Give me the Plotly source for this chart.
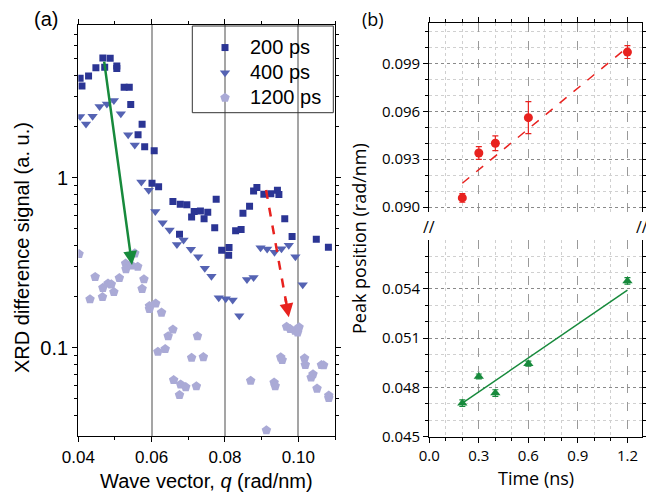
import numpy as np
import plotly.graph_objects as go

# ---- panel (a): XRD difference signal vs wave vector ----
q_200 = [0.0405, 0.0410, 0.0428, 0.0448, 0.0467, 0.0472, 0.0487, 0.0505, 0.0505, 0.0525,
         0.0539, 0.0543, 0.0563, 0.0574, 0.0581, 0.0607, 0.0601, 0.0619, 0.0658, 0.0676,
         0.0678, 0.0696, 0.0709, 0.0716, 0.0733, 0.0743, 0.0753, 0.0772, 0.0776, 0.0791,
         0.0810, 0.0811, 0.0829, 0.0844, 0.0849, 0.0867, 0.0878, 0.0887, 0.0906, 0.0925,
         0.0943, 0.0947, 0.0963, 0.0983, 0.1049, 0.1082]
sig_200 = [3.84, 3.46, 3.96, 4.44, 5.06, 4.46, 5.04, 4.54, 4.39, 3.40,
           3.40, 2.70, 1.79, 2.06, 1.52, 1.44, 0.927, 0.885, 0.724, 0.465,
           0.698, 0.694, 0.587, 0.634, 0.637, 0.574, 0.626, 0.508, 0.746, 0.374,
           0.350, 0.389, 0.487, 0.496, 0.618, 0.679, 0.835, 0.876, 0.800, 0.805,
           0.843, 0.798, 0.573, 0.451, 0.435, 0.390]

q_400 = [0.0405, 0.0421, 0.0439, 0.0458, 0.0478, 0.0497, 0.0516, 0.0536, 0.0554, 0.0572,
         0.0592, 0.0610, 0.0630, 0.0649, 0.0669, 0.0687, 0.0707, 0.0727, 0.0745, 0.0763,
         0.0783, 0.0802, 0.0821, 0.0839, 0.0860, 0.0878, 0.0897, 0.0915, 0.0935, 0.0954,
         0.0974, 0.0992, 0.1012]
sig_400 = [2.29, 2.07, 2.30, 2.62, 2.71, 2.85, 2.38, 1.79, 1.56, 0.943,
           0.843, 0.633, 0.544, 0.492, 0.405, 0.430, 0.379, 0.343, 0.293, 0.263,
           0.197, 0.194, 0.191, 0.154, 0.252, 0.259, 0.388, 0.381, 0.365, 0.382,
           0.401, 0.343, 0.235]

q_1200 = [0.0402, 0.0432, 0.0446, 0.0466, 0.0467, 0.0481, 0.0490, 0.0497, 0.0512, 0.0529,
          0.0530, 0.0545, 0.0554, 0.0562, 0.0574, 0.0579, 0.0594, 0.0594, 0.0611, 0.0627,
          0.0617, 0.0637, 0.0645, 0.0658, 0.0660, 0.0679, 0.0693, 0.0676, 0.0709, 0.0722,
          0.0725, 0.0741, 0.0870, 0.0913, 0.0934, 0.0937, 0.0952, 0.0956, 0.0968, 0.0978,
          0.0991, 0.0998, 0.1002, 0.1017, 0.1019, 0.1035, 0.1040, 0.1051, 0.1063, 0.1069,
          0.1083, 0.1083]
sig_1200 = [0.356, 0.193, 0.261, 0.199, 0.225, 0.239, 0.236, 0.213, 0.257, 0.313,
            0.290, 0.305, 0.359, 0.300, 0.222, 0.253, 0.176, 0.169, 0.182, 0.161,
            0.0947, 0.0983, 0.117, 0.128, 0.0646, 0.0609, 0.0587, 0.0527, 0.0873, 0.0594,
            0.117, 0.0881, 0.0640, 0.0327, 0.0624, 0.0595, 0.0878, 0.0847, 0.133, 0.129,
            0.126, 0.123, 0.132, 0.0867, 0.0793, 0.0668, 0.0699, 0.0575, 0.0791, 0.0789,
            0.0524, 0.0506]

# arrows (start q, start signal) -> (end q, end signal)
green_arrow = [(0.0470, 4.92), (0.05465, 0.307)]
red_arrow = [(0.0912, 0.847), (0.0974, 0.151)]

y_minor_a = [0.03, 0.04, 0.05, 0.06, 0.07, 0.08, 0.09,
             0.2, 0.3, 0.4, 0.5, 0.6, 0.7, 0.8, 0.9,
             2, 3, 4, 5, 6, 7]

# ---- panel (b): peak position vs time ----
t_ns = [0.2, 0.3, 0.4, 0.6, 1.2]
peak_red = [0.09058, 0.09339, 0.0940, 0.0956, 0.0997]
err_red = [0.00027, 0.0004, 0.00046, 0.001, 0.0004]
peak_green = [0.04704, 0.04867, 0.04766, 0.04945, 0.05449]
err_green = [0.0002, 0.00015, 0.0002, 0.00015, 0.0002]
fit_t = [0.2, 1.2]
fit_red = [0.0915, 0.1000]
fit_green = [0.04704, 0.05392]

# page body has an 8px margin, so work in reference pixels minus 8
OFF = 8
W, H = 654 - OFF, 493 - OFF
def px(x):
    return (x - OFF) / W
def py(y):
    return 1 - (y - OFF) / H

NAVY = "#2b3594"
BLUE = "#5563b3"
LAV = "#aaaad6"
RED = "#e8221f"
GREEN = "#178a3c"
FA = "Liberation Sans, Arial, sans-serif"
FB = "Open Sans, sans-serif"

def leg(name):
    return "<span style='font-size:20px'>%s</span>" % name

fig = go.Figure()

fig.add_trace(go.Scatter(x=q_200, y=sig_200, mode="markers", name=leg("200 ps"),
                         marker=dict(symbol="square", size=7, color=NAVY),
                         xaxis="x", yaxis="y"))
fig.add_trace(go.Scatter(x=q_400, y=sig_400, mode="markers", name=leg("400 ps"),
                         marker=dict(symbol="triangle-down", size=9, color=BLUE),
                         xaxis="x", yaxis="y"))
fig.add_trace(go.Scatter(x=q_1200, y=sig_1200, mode="markers", name=leg("1200 ps"),
                         marker=dict(symbol="pentagon", size=10, color=LAV),
                         xaxis="x", yaxis="y"))

# red dashed arrow shaft (stops short of the head)
(rx0, ry0), (rx1, ry1) = red_arrow
fig.add_trace(go.Scatter(x=[rx0, rx0 + 0.88 * (rx1 - rx0)],
                         y=[ry0, 10 ** (np.log10(ry0) + 0.88 * (np.log10(ry1) - np.log10(ry0)))],
                         mode="lines", line=dict(color=RED, width=2.5, dash="dash"),
                         showlegend=False, xaxis="x", yaxis="y"))

# panel (b) traces
fig.add_trace(go.Scatter(x=fit_t, y=fit_red, mode="lines",
                         line=dict(color=RED, width=1.5, dash="dash"),
                         showlegend=False, xaxis="x3", yaxis="y2"))
fig.add_trace(go.Scatter(x=t_ns, y=peak_red, mode="markers",
                         marker=dict(symbol="circle", size=9, color=RED),
                         error_y=dict(type="data", array=err_red, color=RED, thickness=1.2, width=3),
                         showlegend=False, xaxis="x3", yaxis="y2"))
fig.add_trace(go.Scatter(x=fit_t, y=fit_green, mode="lines",
                         line=dict(color=GREEN, width=1.5),
                         showlegend=False, xaxis="x2", yaxis="y3"))
fig.add_trace(go.Scatter(x=t_ns, y=peak_green, mode="markers",
                         marker=dict(symbol="triangle-up", size=9, color=GREEN),
                         error_y=dict(type="data", array=err_green, color=GREEN, thickness=1.2, width=3),
                         showlegend=False, xaxis="x2", yaxis="y3"))

ax_common = dict(showline=True, linecolor="black", linewidth=1.3, ticks="outside",
                 tickcolor="black", ticklen=5, zeroline=False, automargin=False)

grid_b = dict(showgrid=True, gridcolor="#9a9a9a", gridwidth=1, griddash="dash")

fig.update_layout(
    width=W, height=H,
    margin=dict(l=0, r=0, t=0, b=0, autoexpand=False),
    paper_bgcolor="white", plot_bgcolor="white",
    showlegend=True,
    legend=dict(x=px(200), y=py(30), xanchor="left", yanchor="top",
                bgcolor="rgba(0,0,0,0)", borderwidth=0,
                font=dict(family=FA, size=17, color="black"), tracegroupgap=0,
                itemwidth=40),
    xaxis=dict(domain=[px(78.3), px(335)], range=[0.04, 0.11], anchor="y",
               mirror="ticks", tick0=0.04, dtick=0.02, tickformat=".2f",
               tickfont=dict(family=FA, size=17, color="black"),
               showgrid=True, gridcolor="#a5a5a5", gridwidth=1.5,
               minor=dict(dtick=0.01, ticks="outside", ticklen=3, tickcolor="black", showgrid=False),
               **ax_common),
    yaxis=dict(domain=[py(436), py(24.7)], type="log", range=[-1.519, 0.9], anchor="x",
               mirror="ticks", tickvals=[0.1, 1], ticktext=["0.1", "1"],
               tickfont=dict(family=FA, size=20, color="black"), showgrid=False,
               minor=dict(tickvals=y_minor_a, ticks="outside", ticklen=3, tickcolor="black",
                          showgrid=False),
               **ax_common),
    xaxis2=dict(domain=[px(429.3), px(642.3)], range=[0, 1.29], anchor="y3",
                tick0=0, dtick=0.3, tickformat=".1f",
                tickfont=dict(family=FB, size=15, color="black"),
                minor=dict(dtick=0.1, ticks="outside", ticklen=3, tickcolor="black",
                           showgrid=True, gridcolor="#cfcfcf", griddash="dot"),
                **grid_b, **ax_common),
    xaxis3=dict(domain=[px(429.3), px(642.3)], range=[0, 1.29], anchor="y2", matches="x2",
                side="top", tick0=0, dtick=0.3, showticklabels=False,
                minor=dict(dtick=0.1, ticks="outside", ticklen=3, tickcolor="black",
                           showgrid=True, gridcolor="#cfcfcf", griddash="dot"),
                **grid_b, **ax_common),
    yaxis2=dict(domain=[py(212), py(23.3)], range=[0.0897, 0.1015], anchor="x3",
                mirror="ticks", tick0=0.09, dtick=0.003, tickformat=".3f",
                tickfont=dict(family=FB, size=15, color="black"),
                showgrid=True, gridcolor="#8a8a8a", griddash="dot",
                minor=dict(dtick=0.001, ticks="outside", ticklen=3, tickcolor="black",
                           showgrid=True, gridcolor="#d0d0d0"),
                **ax_common),
    yaxis3=dict(domain=[py(436.7), py(240)], range=[0.045, 0.05698], anchor="x2",
                mirror="ticks", tick0=0.045, dtick=0.003, tickformat=".3f",
                tickfont=dict(family=FB, size=15, color="black"),
                showgrid=True, gridcolor="#8a8a8a", griddash="dot",
                minor=dict(dtick=0.001, ticks="outside", ticklen=3, tickcolor="black",
                           showgrid=True, gridcolor="#d0d0d0"),
                **ax_common),
)

# legend frame
fig.add_shape(type="rect", xref="paper", yref="paper",
              x0=px(192.3), x1=px(333.3), y0=py(112.7), y1=py(26),
              line=dict(color="#333333", width=1))

def label(x, y, text, family, size, angle=0):
    return dict(x=px(x), y=py(y), xref="paper", yref="paper", text=text,
                showarrow=False, xanchor="center", yanchor="middle", textangle=angle,
                font=dict(family=family, size=size, color="black"))

(gx0, gy0), (gx1, gy1) = green_arrow
annotations = [
    # green solid arrow
    dict(x=gx1, y=np.log10(gy1), ax=gx0, ay=np.log10(gy0), xref="x", yref="y",
         axref="x", ayref="y", showarrow=True, arrowhead=2, arrowsize=1.1,
         arrowwidth=2.5, arrowcolor=GREEN, text=""),
    # red arrow head
    dict(x=rx1, y=np.log10(ry1), ax=-3.5, ay=-20, xref="x", yref="y",
         showarrow=True, arrowhead=2, arrowsize=1.1, arrowwidth=2.5,
         arrowcolor=RED, text=""),
    label(46, 19, "(a)", FA, 20),
    label(373, 19, "(b)", FB, 18),
    label(206.7, 481, "Wave vector, <i>q</i> (rad/nm)", FA, 20),
    label(22, 248, "XRD difference signal (a. u.)", FA, 20, -90),
    label(535.8, 478, "Time (ns)", FB, 18),
    label(359, 238, "Peak position (rad/nm)", FB, 18, -90),
    label(429.3, 227, "//", FB, 16),
    label(642.3, 227, "//", FB, 16),
]
fig.update_layout(annotations=annotations)

fig.write_html("out.html")
